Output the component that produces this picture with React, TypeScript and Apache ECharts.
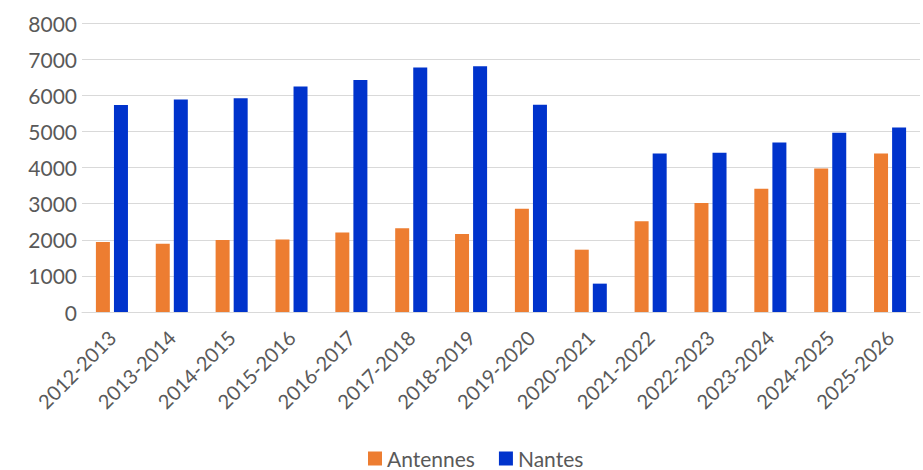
import React, { useEffect, useRef } from "react";
import * as echarts from "echarts";

const categories = [
  "2012-2013", "2013-2014", "2014-2015", "2015-2016", "2016-2017", "2017-2018", "2018-2019",
  "2019-2020", "2020-2021", "2021-2022", "2022-2023", "2023-2024", "2024-2025", "2025-2026",
];
const antennes = [1940, 1890, 1990, 2010, 2200, 2315, 2160, 2860, 1725, 2510, 3015, 3415, 3975, 4390];
const nantes = [5730, 5885, 5915, 6245, 6420, 6770, 6800, 5740, 785, 4390, 4410, 4695, 4965, 5110];
const seriesNames = ["Antennes", "Nantes"];

const FONT = "Lato, 'Open Sans', sans-serif";

export default function App() {
  const ref = useRef<HTMLDivElement>(null);
  useEffect(() => {
    if (!ref.current) return;
    const chart = echarts.init(ref.current, null, { renderer: "svg" });
    chart.setOption({
      animation: false,
      grid: { left: 82, right: 3, top: 23, bottom: 158, containLabel: false },
      legend: {
        top: 448,
        left: 368,
        padding: 0,
        itemWidth: 14,
        itemHeight: 14,
        itemGap: 24,
        icon: "rect",
        textStyle: { fontFamily: FONT, fontSize: 21, color: "#595959" },
        data: seriesNames,
      },
      xAxis: {
        type: "category",
        data: categories,
        axisLine: { show: true, lineStyle: { color: "#D9D9D9", width: 1 } },
        axisTick: { show: false },
        axisLabel: {
          rotate: 45,
          interval: 0,
          margin: 22,
          fontFamily: FONT,
          fontSize: 20,
          color: "#595959",
        },
      },
      yAxis: {
        type: "value",
        min: 0,
        max: 8000,
        interval: 1000,
        axisLine: { show: false },
        axisTick: { show: false },
        axisLabel: {
          margin: 5,
          fontFamily: FONT,
          fontSize: 21,
          color: "#595959",
          formatter: (v: number) => String(v),
        },
        splitLine: { lineStyle: { color: "#D9D9D9", width: 1 } },
      },
      series: [
        {
          name: seriesNames[0],
          type: "bar",
          data: antennes,
          barWidth: 14,
          barGap: "29%",
          itemStyle: { color: "#ED7D31" },
        },
        {
          name: seriesNames[1],
          type: "bar",
          data: nantes,
          barWidth: 14,
          barGap: "29%",
          itemStyle: { color: "#0033CC" },
        },
      ],
    });
    return () => chart.dispose();
  }, []);
  return <div ref={ref} style={{ width: 923, height: 470, position: "absolute", left: 0, top: 0 }} />;
}
